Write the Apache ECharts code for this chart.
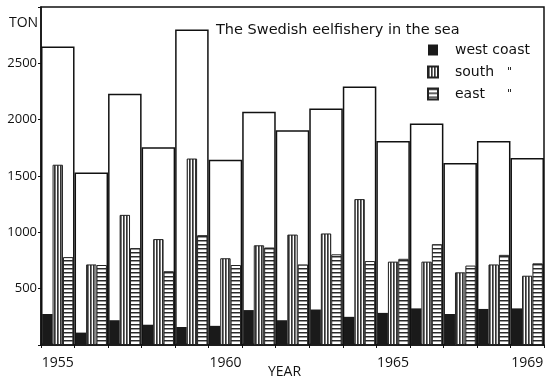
<!DOCTYPE html>
<html>
<head>
<meta charset="utf-8">
<script src="https://cdn.jsdelivr.net/npm/echarts@6/dist/echarts.min.js"></script>
<style>
html,body{margin:0;padding:0;background:#fff;}
#chart{width:550px;height:384px;}
</style>
</head>
<body>
<div id="chart"></div>
<script>
const years = ['1955','1956','1957','1958','1959','1960','1961','1962','1963','1964','1965','1966','1967','1968','1969'];
const total = [2650, 1530, 2230, 1755, 2800, 1645, 2070, 1905, 2100, 2295, 1810, 1965, 1615, 1810, 1660];
const westCoast = [275, 110, 220, 180, 160, 170, 310, 220, 315, 250, 285, 325, 275, 320, 325];
const south = [1600, 715, 1155, 940, 1655, 770, 885, 980, 990, 1295, 740, 740, 645, 715, 615];
const east = [780, 710, 860, 655, 975, 710, 865, 715, 805, 745, 765, 895, 705, 800, 725];
const shownYears = ['1955','1960','1965','1969'];

function makePattern(w, h, draw) {
  const c = document.createElement('canvas');
  c.width = w; c.height = h;
  const ctx = c.getContext('2d');
  ctx.fillStyle = '#fff';
  ctx.fillRect(0, 0, w, h);
  draw(ctx);
  return c;
}
const vPattern = makePattern(3, 4, ctx => {
  ctx.fillStyle = '#333';
  ctx.fillRect(0, 0, 1, 4);
  ctx.fillStyle = '#777';
  ctx.fillRect(1, 0, 1, 4);
});
const hPattern = makePattern(4, 4, ctx => {
  ctx.fillStyle = '#2a2a2a';
  ctx.fillRect(0, 0, 4, 1);
  ctx.fillStyle = '#999';
  ctx.fillRect(0, 1, 4, 1);
});

const font = 'Open Sans';
const tFont = 'DejaVu Sans';
const chart = echarts.init(document.getElementById('chart'), null, {renderer: 'canvas'});
chart.setOption({
  animation: false,
  backgroundColor: '#fff',
  grid: {left: 41, right: 6, top: 7, bottom: 39, containLabel: false, outerBoundsMode: 'none',
         show: true, borderColor: '#111', borderWidth: 1.5, backgroundColor: 'transparent'},
  title: {
    text: 'The Swedish eelfishery in the sea',
    left: 211, top: 18,
    textStyle: {fontFamily: tFont, fontSize: 14.5, fontWeight: 'normal', color: '#111'}
  },
  legend: {
    orient: 'vertical',
    left: 422, top: 38,
    icon: 'rect',
    itemWidth: 10, itemHeight: 11, itemGap: 8,
    data: ['west coast', 'south', 'east'],
    formatter: function (name) {
      if (name === 'west coast') return '{a|west coast}';
      return '{a|' + name + '}{b|"}';
    },
    textStyle: {
      fontFamily: tFont, fontSize: 14, color: '#111', padding: [0, 0, 0, 12],
      rich: {
        a: {fontFamily: tFont, fontSize: 14, color: '#111', width: 52},
        b: {fontFamily: tFont, fontSize: 11, color: '#111', verticalAlign: 'middle'}
      }
    }
  },
  graphic: [
    {type: 'text', left: 9, top: 16, style: {text: 'TON', font: '14px "Open Sans"', fill: '#111'}},
    {type: 'text', left: 268, top: 365, style: {text: 'YEAR', font: '14px "Open Sans"', fill: '#111'}}
  ],
  xAxis: [
    {
      type: 'category', data: years, boundaryGap: true,
      axisLine: {show: true, lineStyle: {color: '#111', width: 1.5}},
      axisTick: {show: true, interval: 0, length: 3, lineStyle: {color: '#111'}},
      axisLabel: {
        interval: 0, margin: 11, fontFamily: font, fontSize: 14, color: '#111',
        formatter: v => shownYears.indexOf(v) >= 0 ? v : ''
      },
      splitLine: {show: false}
    },
    {type: 'category', data: years, show: false, boundaryGap: true}
  ],
  yAxis: {
    type: 'value', min: 0, max: 3000, interval: 500,
    axisLine: {show: true, lineStyle: {color: '#111', width: 1.5}},
    axisTick: {show: true, length: 3, lineStyle: {color: '#111'}},
    axisLabel: {
      margin: 4, fontFamily: font, fontSize: 13, color: '#111',
      formatter: v => (v === 0 || v === 3000) ? '' : String(v)
    },
    splitLine: {show: false}
  },
  series: [
    {
      name: 'total', type: 'bar', xAxisIndex: 1, data: total, barWidth: '100%',
      itemStyle: {color: '#fff', borderColor: '#111', borderWidth: 1.5}, z: 1, silent: true
    },
    {
      name: 'west coast', type: 'bar', xAxisIndex: 0, data: westCoast,
      barWidth: '31%', barGap: '0%',
      itemStyle: {color: '#1a1a1a'}, z: 3
    },
    {
      name: 'south', type: 'bar', xAxisIndex: 0, data: south,
      barWidth: '31%', barGap: '0%',
      itemStyle: {color: {image: vPattern, repeat: 'repeat'}, borderColor: '#222', borderWidth: 1}, z: 3
    },
    {
      name: 'east', type: 'bar', xAxisIndex: 0, data: east,
      barWidth: '31%', barGap: '0%',
      itemStyle: {color: {image: hPattern, repeat: 'repeat'}, borderColor: '#222', borderWidth: 1}, z: 3
    }
  ]
});
</script>
</body>
</html>
